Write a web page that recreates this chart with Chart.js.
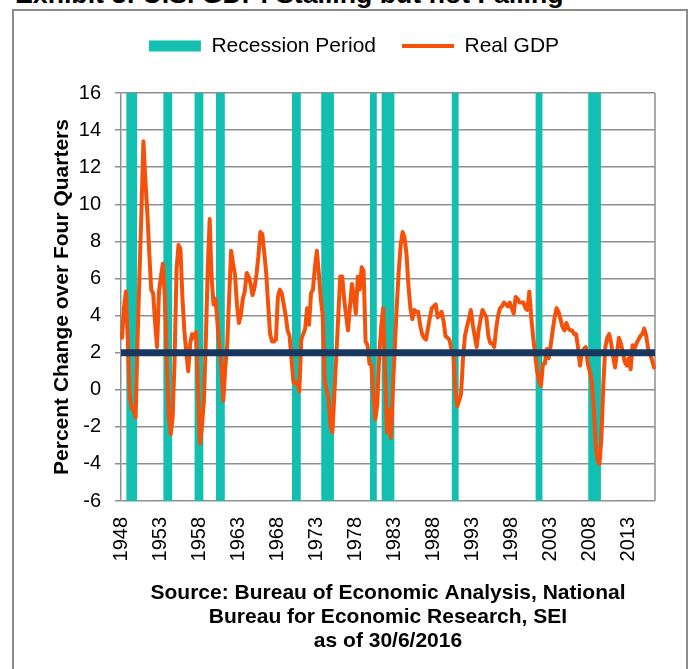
<!DOCTYPE html>
<html>
<head>
<meta charset="utf-8">
<script src="https://cdn.jsdelivr.net/npm/chart.js@4/dist/chart.umd.min.js"></script>
<style>
  html, body { margin: 0; padding: 0; background: #fff; overflow: hidden; }
  #wrap { position: relative; width: 688px; height: 669px; overflow: hidden; }
  #frame { position: absolute; left: 12px; top: 9px; width: 676px; height: 700px;
           border: 2px solid #8c8c8c; box-sizing: border-box; }
  #title { position: absolute; left: 15px; top: -19px; white-space: nowrap; color: #000;
           font: bold 26.7px "Liberation Sans", Arial, sans-serif; line-height: 27px; }
  canvas { position: absolute; left: 0; top: 0; }
</style>
</head>
<body>
<div id="wrap">
  <div id="frame"></div>
  <div id="title">Exhibit 3: U.S. GDP: Stalling but not Falling</div>
  <canvas id="chart" width="688" height="669"></canvas>
</div>
<script>
// Quarterly real GDP, percent change over four quarters, 1948Q1 - 2016Q2
const firstYear = 1948;
const lastYear = 2016;
const lastQuarter = 2;

const gdpGrowth = [
  // 1948 - 1959
  2.8, 4.4, 5.3, 2.6,   -0.4, -1.0, -1.1, -1.5,   2.7, 6.2, 9.7, 13.4,
  11.3, 9.6, 7.4, 5.4,  5.2, 3.6, 2.3, 5.3,       6.1, 6.8, 5.0, 1.6,
  -1.4, -2.4, -1.5, 1.6, 6.5, 7.8, 7.6, 5.0,      3.2, 2.0, 1.0, 2.5,
  3.0, 2.8, 3.1, 0.1,   -2.9, -2.0, -0.7, 2.5,    6.5, 9.2, 6.0, 4.6,
  // 1960 - 1969
  4.9, 3.6, 2.4, 1.2,   -0.6, 1.2, 2.4, 5.0,      7.5, 6.8, 6.2, 4.6,
  3.6, 4.0, 4.9, 5.3,   6.3, 6.1, 5.7, 5.1,       5.5, 6.2, 7.2, 8.5,
  8.4, 7.4, 6.3, 4.6,   3.0, 2.6, 2.6, 2.7,       5.0, 5.4, 5.2, 4.6,
  4.0, 3.2, 2.9, 1.6,
  // 1970 - 1979
  0.4, 0.3, 0.4, -0.1,  2.7, 3.0, 3.3, 4.4,       3.5, 5.2, 5.4, 6.6,
  7.5, 6.3, 4.9, 4.0,   0.5, 0.0, -0.5, -2.0,     -2.3, -0.2, 1.9, 4.0,
  6.1, 6.1, 4.9, 4.0,   3.2, 4.5, 5.7, 5.0,       4.1, 6.1, 5.4, 6.6,
  6.4, 2.6, 2.4, 1.4,
  // 1980 - 1989
  1.3, -0.3, -1.6, -0.8, 1.9, 3.4, 4.4, 1.0,      -2.3, -1.1, -2.6, 0.0,
  2.3, 4.5, 6.4, 7.8,   8.5, 8.2, 7.3, 5.6,       4.4, 3.8, 4.3, 4.2,
  4.2, 3.5, 3.0, 2.8,   2.7, 3.3, 3.9, 4.4,       4.5, 4.6, 3.9, 4.0,
  4.2, 3.7, 2.9, 2.8,
  // 1990 - 1999
  2.7, 2.2, 2.0, 0.0,   -0.9, -0.6, -0.2, 1.7,    2.9, 3.4, 3.8, 4.3,
  3.5, 2.9, 2.3, 3.2,   3.8, 4.3, 4.1, 3.9,       2.9, 2.5, 2.5, 2.3,
  3.3, 4.0, 4.4, 4.5,   4.7, 4.6, 4.5, 4.7,       4.4, 4.1, 5.0, 4.9,
  4.7, 4.7, 4.7, 4.4,
  // 2000 - 2009
  4.3, 5.3, 3.9, 2.8,   1.9, 1.0, 0.5, 0.2,       1.4, 1.4, 2.2, 1.7,
  2.4, 3.2, 3.9, 4.4,   4.2, 3.8, 3.4, 3.2,       3.6, 3.3, 3.2, 3.2,
  3.0, 3.0, 2.3, 1.3,   2.0, 2.2, 2.3, 1.4,       1.0, 0.5, -0.8, -2.9,
  -3.8, -4.0, -2.6, 0.3,
  // 2010 - 2016
  2.3, 2.8, 3.0, 2.5,   1.8, 1.2, 2.0, 2.8,       2.5, 2.0, 1.5, 1.3,
  1.7, 1.1, 2.4, 2.2,   2.5, 2.7, 2.9, 3.0,       3.3, 2.9, 2.2, 1.9,
  1.6, 1.2
];

// NBER recession periods, first and last shaded quarter
const recessionPeriods = [
  ['1948Q4', '1949Q4'], ['1953Q3', '1954Q2'], ['1957Q3', '1958Q2'],
  ['1960Q2', '1961Q1'], ['1970Q1', '1970Q4'], ['1973Q4', '1975Q1'],
  ['1980Q1', '1980Q3'], ['1981Q3', '1982Q4'], ['1990Q3', '1991Q1'],
  ['2001Q2', '2001Q4'], ['2008Q1', '2009Q2']
];
const recessionRange = [-6, 16];

const tickYears = ['1948', '1953', '1958', '1963', '1968', '1973', '1978',
                   '1983', '1988', '1993', '1998', '2003', '2008', '2013'];

const referenceRate = 2;

const yAxisTitle = 'Percent Change over Four Quarters';
const sourceLines = ['Source: Bureau of Economic Analysis, National',
                     'Bureau for Economic Research, SEI',
                     'as of 30/6/2016'];

// Quarter labels
const quarters = [];
for (let y = firstYear; y <= lastYear; y++) {
  for (let q = 1; q <= 4; q++) {
    if (y === lastYear && q > lastQuarter) break;
    quarters.push(y + 'Q' + q);
  }
}

// Recession shading, one floating bar per quarter inside a period
const recessionBars = quarters.map(lbl => {
  const inside = recessionPeriods.some(([a, b]) => lbl >= a && lbl <= b);
  return inside ? recessionRange.slice() : null;
});

const TEAL = '#13bfb1';
const ORANGE = '#f4520b';
const NAVY = '#17375e';
const GRID = '#8f8f8f';
const FONT = '"Liberation Sans", Arial, sans-serif';

const plotDecor = {
  id: 'plotDecor',
  beforeUpdate(chart) {
    // extra room between the legend and the plot
    const lg = chart.legend;
    if (lg && !lg._extraGap) {
      const fit = lg.fit;
      lg.fit = function () { fit.call(this); this.height += 26.5; };
      lg._extraGap = true;
    }
  },
  beforeDatasetsDraw(chart) {
    const { ctx, chartArea: { top, bottom, right } } = chart;
    ctx.save();
    ctx.strokeStyle = GRID;
    ctx.lineWidth = 1.5;
    ctx.beginPath();
    ctx.moveTo(right, top);
    ctx.lineTo(right, bottom);
    ctx.stroke();
    ctx.restore();
  },
  afterDatasetsDraw(chart) {
    const { ctx, chartArea: { left, right } } = chart;
    const y = chart.scales.y.getPixelForValue(referenceRate);
    ctx.save();
    ctx.strokeStyle = NAVY;
    ctx.lineWidth = 7;
    ctx.beginPath();
    ctx.moveTo(left, y);
    ctx.lineTo(right, y);
    ctx.stroke();
    ctx.restore();
  }
};

new Chart(document.getElementById('chart'), {
  type: 'bar',
  data: {
    labels: quarters,
    datasets: [
      {
        type: 'line',
        label: 'Real GDP',
        data: gdpGrowth,
        borderColor: ORANGE,
        backgroundColor: ORANGE,
        borderWidth: 4,
        borderJoinStyle: 'round',
        borderCapStyle: 'round',
        pointRadius: 0,
        tension: 0,
        order: 0
      },
      {
        type: 'bar',
        label: 'Recession Period',
        data: recessionBars,
        backgroundColor: TEAL,
        borderWidth: 0,
        barPercentage: 1,
        categoryPercentage: 1,
        inflateAmount: 0.5,
        order: 1
      }
    ]
  },
  options: {
    responsive: false,
    animation: false,
    devicePixelRatio: 1,
    layout: { padding: { left: 53, right: 33, top: 9.5, bottom: 16 } },
    plugins: {
      tooltip: { enabled: false },
      legend: {
        position: 'top',
        align: 'center',
        labels: {
          color: '#000',
          font: { family: FONT, size: 21 },
          usePointStyle: true,
          pointStyleWidth: 52,
          boxHeight: 11,
          padding: 26,
          generateLabels: () => [
            { text: 'Recession Period', fillStyle: TEAL, strokeStyle: TEAL, lineWidth: 0,
              pointStyle: 'rect', hidden: false, datasetIndex: 1, fontColor: '#000' },
            { text: 'Real GDP', fillStyle: ORANGE, strokeStyle: ORANGE, lineWidth: 4,
              pointStyle: 'line', hidden: false, datasetIndex: 0, fontColor: '#000' }
          ]
        }
      }
    },
    scales: {
      x: {
        type: 'category',
        offset: true,
        grid: { display: false, drawTicks: true, tickLength: 8 },
        border: { display: false },
        ticks: {
          autoSkip: false,
          minRotation: 90,
          maxRotation: 90,
          padding: 8,
          color: '#000',
          font: { family: FONT, size: 20 },
          callback: function (value) {
            const lbl = this.getLabelForValue(value);
            const yr = lbl.slice(0, 4);
            return (lbl.endsWith('Q1') && tickYears.includes(yr)) ? yr : '';
          }
        },
        title: {
          display: true,
          text: sourceLines,
          color: '#000',
          font: { family: FONT, size: 21, weight: 'bold', lineHeight: '24px' },
          padding: 0
        },
        afterFit(scale) { scale.height = 152; }
      },
      y: {
        min: -6,
        max: 16,
        ticks: {
          stepSize: 2,
          padding: 14,
          color: '#000',
          font: { family: FONT, size: 20 }
        },
        grid: { color: GRID, lineWidth: 1.5, drawTicks: true, tickLength: 6, tickColor: GRID },
        border: { display: true, color: GRID, width: 1.5 },
        title: {
          display: true,
          text: yAxisTitle,
          color: '#000',
          font: { family: FONT, size: 21, weight: 'bold', lineHeight: '18px' },
          padding: 0
        },
        afterFit(scale) { scale.width = 68; }
      }
    }
  },
  plugins: [plotDecor]
});
</script>
</body>
</html>
